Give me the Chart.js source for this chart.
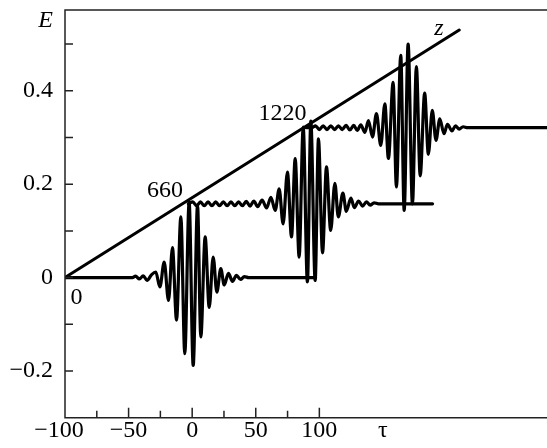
<!DOCTYPE html>
<html>
<head>
<meta charset="utf-8">
<script src="https://cdn.jsdelivr.net/npm/chart.js@4.4.1/dist/chart.umd.min.js"></script>
<style>
  html, body { margin: 0; padding: 0; background: #fff; }
  #wrap { width: 547px; height: 448px; }
</style>
</head>
<body>
<div id="wrap"><canvas id="chart" width="547" height="448"></canvas></div>
<script>
// pulse at z = 0, baseline E = 0
const trace1Tau = [-100, -47, -44.5, -41.5, -38.5, -35.5, -32, -28.6, -25.4, -22.0, -18.6, -15.5, -12.3, -8.9, -5.8, -2.4, 0.8,
  4.2, 6.8, 10.2, 13.4, 16.5, 19.4, 22.5, 25.2, 28.5, 31.7, 34.8, 38, 41, 44.5, 97];
const trace1E = [0, 0, 0.003, -0.003, 0.004, -0.006, 0.006, 0.012, -0.020, 0.033, -0.049, 0.064, -0.091, 0.130, -0.163, 0.162, -0.188,
  0.155, -0.127, 0.087, -0.064, 0.044, -0.031, 0.019, -0.016, 0.009, -0.008, 0.005, -0.004, 0.002, 0, 0];

// pulse at z = 660
const trace2Tau = [-3, 0.5, 3.5, 6.5, 9.5, 12.5, 15.5, 18.5, 21.5, 24.5, 27.5, 30.5, 33.5, 36.5, 39.5, 42.5, 45.5, 48.5, 51.5, 55,
  58.5, 61.9, 65.3, 68.4, 71.5, 74.9, 78.1, 81.0, 84.1, 87.3, 90.6, 93.3, 96.7, 99.3, 102.5, 105.6, 108.9, 112.2, 114.9, 118.5,
  121.2, 124.8, 127.5, 130.8, 134, 137, 140, 143, 146.5, 189];
const trace2E = [0.158, 0.162, 0.154, 0.162, 0.154, 0.162, 0.154, 0.162, 0.154, 0.162, 0.154, 0.162, 0.154, 0.162, 0.154, 0.163, 0.153, 0.164, 0.152, 0.166,
  0.149, 0.172, 0.144, 0.190, 0.115, 0.226, 0.087, 0.255, 0.044, 0.322, -0.009, 0.335, -0.006, 0.297, 0.053, 0.237, 0.101, 0.202, 0.130, 0.181,
  0.142, 0.170, 0.150, 0.164, 0.153, 0.162, 0.155, 0.160, 0.158, 0.158];

// pulse at z = 1220
const trace3Tau = [89.7, 94, 97, 100, 103, 106, 109, 112, 115, 118, 121, 124, 127, 129.8, 132.6, 135.8, 138.6, 141.8, 144.9, 148.3,
  151.5, 154.3, 158.0, 160.6, 164.0, 166.7, 169.8, 173.2, 176.3, 179.3, 182.8, 185.7, 188.8, 191.7, 194.7, 198, 200.7, 204.3, 207, 210,
  213, 216.5, 279];
const trace3E = [0.321, 0.321, 0.325, 0.317, 0.325, 0.317, 0.325, 0.317, 0.325, 0.317, 0.326, 0.316, 0.326, 0.315, 0.327, 0.311, 0.336, 0.301, 0.351, 0.283,
  0.372, 0.255, 0.418, 0.194, 0.476, 0.144, 0.500, 0.158, 0.452, 0.218, 0.395, 0.264, 0.358, 0.294, 0.340, 0.308, 0.328, 0.314, 0.325, 0.318,
  0.323, 0.321, 0.321];

// z axis drawn diagonally
const zLineTau = [-100, 210];
const zLineE = [0, 0.530];

const xTickValues = [-100, -50, 0, 50, 100, 150];
const xTickLabels = ['\u2212100\u2002', '\u221250', '0', '50', '100', '\u03C4'];
const xMajorMarks = [-50, 0, 50, 100];
const xMinorMarks = [-75, -25, 25, 75];

const yTickValues = [-0.2, 0, 0.2, 0.4, 0.55];
const yTickLabels = ['\u22120.2', '0', '0.2', '0.4', 'E'];
const yMarks = [-0.2, -0.1, 0, 0.1, 0.2, 0.3, 0.4, 0.5];

const noteText = ['0', '660', '1220', 'z'];
const noteTau = [-91, -21.4, 71.1, 194];
const noteE = [-0.042, 0.185, 0.351, 0.532];
const noteItalic = [false, false, false, true];

const SERIF = '"Liberation Serif", "Times New Roman", serif';

function toPoints(xs, ys) {
  return xs.map((x, i) => ({ x, y: ys[i] }));
}

function lineSet(xs, ys, width) {
  return {
    data: toPoints(xs, ys),
    showLine: true,
    borderColor: '#000',
    borderWidth: width,
    pointRadius: 0,
    cubicInterpolationMode: 'monotone',
    borderJoinStyle: 'round',
    borderCapStyle: 'round',
  };
}

// no extra room for half-labels at the ends of the axes
function noScalePadding(scale) {
  scale.paddingTop = 0;
  scale.paddingBottom = 0;
  scale.paddingLeft = 0;
  scale.paddingRight = 0;
}

const framePlugin = {
  id: 'frame',
  afterDraw(chart) {
    const { ctx, chartArea: a, scales: { x, y } } = chart;
    ctx.save();
    ctx.strokeStyle = '#222';
    ctx.lineWidth = 1.5;
    ctx.beginPath();
    ctx.moveTo(a.right, a.top);
    ctx.lineTo(a.left, a.top);
    ctx.lineTo(a.left, a.bottom);
    ctx.lineTo(a.right, a.bottom);
    xMajorMarks.forEach(v => {
      const px = x.getPixelForValue(v);
      ctx.moveTo(px, a.bottom);
      ctx.lineTo(px, a.bottom - 10);
    });
    xMinorMarks.forEach(v => {
      const px = x.getPixelForValue(v);
      ctx.moveTo(px, a.bottom);
      ctx.lineTo(px, a.bottom - 7);
    });
    yMarks.forEach(v => {
      const py = y.getPixelForValue(v);
      ctx.moveTo(a.left, py);
      ctx.lineTo(a.left + 8, py);
    });
    ctx.stroke();

    ctx.fillStyle = '#000';
    ctx.textAlign = 'center';
    ctx.textBaseline = 'middle';
    noteText.forEach((t, i) => {
      ctx.font = (noteItalic[i] ? 'italic ' : '') + '24px ' + SERIF;
      ctx.fillText(t, x.getPixelForValue(noteTau[i]), y.getPixelForValue(noteE[i]));
    });
    ctx.restore();
  },
};

new Chart(document.getElementById('chart'), {
  type: 'scatter',
  data: {
    datasets: [
      lineSet(zLineTau, zLineE, 3),
      lineSet(trace1Tau, trace1E, 3.2),
      lineSet(trace2Tau, trace2E, 3.2),
      lineSet(trace3Tau, trace3E, 3.2),
    ],
  },
  options: {
    responsive: false,
    animation: false,
    layout: { autoPadding: false, padding: { top: 10, right: 0, left: 0, bottom: 0 } },
    plugins: {
      legend: { display: false },
      tooltip: { enabled: false },
    },
    scales: {
      x: {
        type: 'linear',
        min: -100,
        max: 279,
        grid: { display: false, drawTicks: false },
        border: { display: false },
        afterBuildTicks(scale) {
          scale.ticks = xTickValues.map(v => ({ value: v }));
        },
        afterFit(scale) {
          scale.height = 30.3;
          noScalePadding(scale);
        },
        ticks: {
          autoSkip: false,
          maxRotation: 0,
          padding: -1,
          color: '#000',
          font: { family: SERIF, size: 24 },
          callback: (value, index) => xTickLabels[index],
        },
      },
      y: {
        type: 'linear',
        min: -0.3,
        max: 0.573,
        grid: { display: false, drawTicks: false },
        border: { display: false },
        afterBuildTicks(scale) {
          scale.ticks = yTickValues.map(v => ({ value: v }));
        },
        afterFit(scale) {
          scale.width = 65;
          noScalePadding(scale);
        },
        ticks: {
          autoSkip: false,
          padding: 12,
          color: '#000',
          font: ctx => ({
            family: SERIF,
            size: 24,
            style: yTickLabels[ctx.index] === 'E' ? 'italic' : 'normal',
          }),
          callback: (value, index) => yTickLabels[index],
        },
      },
    },
  },
  plugins: [framePlugin],
});
</script>
</body>
</html>
